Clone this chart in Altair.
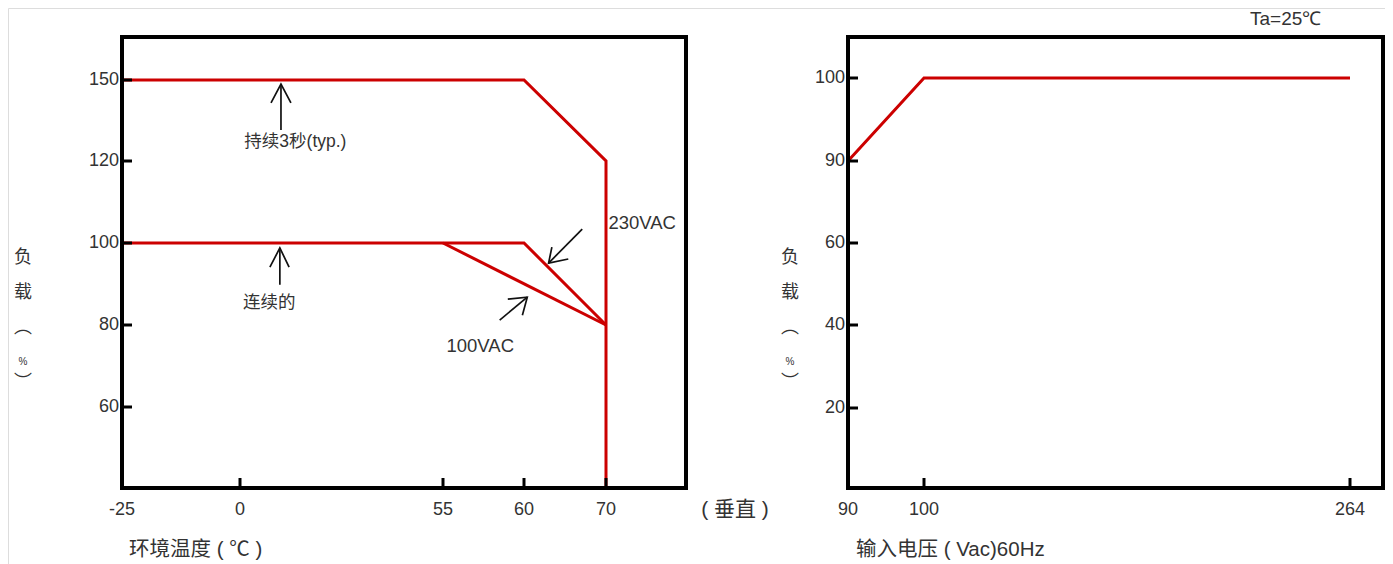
import altair as alt
import pandas as pd

# ---------------- data ----------------
# Left panel: load (%) vs ambient temperature (°C)
temp_ticks = [-25, 0, 55, 60, 70]
load_ticks_left = [60, 80, 100, 120, 150]
peak_temp = [-25, 60, 70, 70]
peak_load = [150, 150, 120, 40]
vac230_temp = [-25, 60, 70]
vac230_load = [100, 100, 80]
vac100_temp = [55, 70]
vac100_load = [100, 80]

# Right panel: load (%) vs input voltage (Vac)
vin_ticks = [90, 100, 264]
load_ticks_right = [20, 40, 60, 90, 100]
vin = [90, 100, 264]
vin_load = [90, 100, 100]

# annotation arrows (data units of left panel): shaft + head
arrow_peak_x = [[11.1, 11.1], [8.4, 11.1, 13.8]]
arrow_peak_y = [[131.5, 148.5], [141.5, 148.5, 141.5]]
arrow_cont_x = [[10.8, 10.8], [8.1, 10.8, 13.3]]
arrow_cont_y = [[89.8, 98.8], [94.1, 98.8, 94.1]]
arrow_230_x = [[67.1, 63.0], [63.4, 63.0, 65.4]]
arrow_230_y = [[103.4, 95.1], [99.0, 95.1, 96.1]]
arrow_100_x = [[58.5, 60.4], [59.0, 60.4, 59.9]]
arrow_100_y = [[81.2, 86.8], [86.3, 86.8, 82.4]]

notes_text = ["持续3秒(typ.)", "连续的", "230VAC", "100VAC"]
notes_x = [15.0, 7.9, 70.3, 57.3]
notes_y = [127.0, 85.4, 104.9, 74.9]
notes_align = ["center", "center", "left", "center"]
notes_size = [17.5, 17.5, 18.5, 18.5]

# ---------------- styling ----------------
RED = "#CC0000"
TXT = "#333333"
NUMFONT = "Liberation Sans"
CJK = "Liberation Sans, Noto Sans CJK SC"

# piecewise scales (chart pixel coordinates)
lx = alt.Scale(domain=[-25, 0, 55, 60, 70, 80], range=[114, 232, 435, 516, 598, 678], nice=False, zero=False)
ly = alt.Scale(domain=[40, 60, 80, 100, 120, 150, 166], range=[480, 399, 317, 235, 153, 72, 29], nice=False, zero=False)
rx = alt.Scale(domain=[90, 100, 264, 276.5], range=[840, 916, 1342, 1375], nice=False, zero=False)
ry = alt.Scale(domain=[0, 20, 40, 60, 90, 100, 105], range=[480, 400, 317, 235, 153, 70, 29], nice=False, zero=False)


def poly_df(groups):
    rows = []
    for gi, (xs, ys) in enumerate(groups):
        for i, (a, b) in enumerate(zip(xs, ys)):
            rows.append({"g": gi, "i": i, "x": a, "y": b})
    return pd.DataFrame(rows)


def lines(df, xs, ys, color, width):
    return alt.Chart(df).mark_line(color=color, strokeWidth=width, strokeJoin="miter", strokeCap="butt").encode(
        x=alt.X("x:Q", scale=xs, axis=None),
        y=alt.Y("y:Q", scale=ys, axis=None),
        detail="g:N",
        order="i:Q",
    )


def frame(xs, ys, x0, x1, y0, y1):
    df = pd.DataFrame({"x": [x0], "x2": [x1], "y": [y0], "y2": [y1]})
    return alt.Chart(df).mark_rect(fillOpacity=0, stroke="black", strokeWidth=4).encode(
        x=alt.X("x:Q", scale=xs, axis=None), x2="x2:Q",
        y=alt.Y("y:Q", scale=ys, axis=None), y2="y2:Q",
    )


def yticks(vals, ys, px):
    df = pd.DataFrame({"v": vals, "s": [str(v) for v in vals]})
    t = alt.Chart(df).mark_rule(color="black", strokeWidth=3).encode(
        y=alt.Y("v:Q", scale=ys, axis=None), x=alt.value(px), x2=alt.value(px + 10))
    lab = alt.Chart(df).mark_text(align="right", baseline="middle", font=NUMFONT, fontSize=18, color=TXT).encode(
        y=alt.Y("v:Q", scale=ys, axis=None), x=alt.value(px - 3), text="s:N")
    return t + lab


def xticks(vals, xs, py):
    df = pd.DataFrame({"v": vals, "s": [str(v) for v in vals]})
    t = alt.Chart(df).mark_rule(color="black", strokeWidth=3).encode(
        x=alt.X("v:Q", scale=xs, axis=None), y=alt.value(py), y2=alt.value(py - 10))
    lab = alt.Chart(df).mark_text(align="center", baseline="middle", font=NUMFONT, fontSize=18, color=TXT).encode(
        x=alt.X("v:Q", scale=xs, axis=None), y=alt.value(py + 22), text="s:N")
    return t + lab


def label(text, x, y, size=17, align="left", font=CJK, baseline="middle"):
    return alt.Chart(pd.DataFrame({"t": [text]})).mark_text(
        align=align, baseline=baseline, font=font, fontSize=size, color=TXT).encode(
        x=alt.value(x), y=alt.value(y), text="t:N")


def vtitle(x):
    return alt.layer(
        label("负", x, 250, 18, "center"),
        label("载", x, 285, 18, "center"),
        label("︵", x, 320, 18, "center"),
        label("%", x, 354, 10, "center"),
        label("︶", x, 375, 18, "center"),
    )


# ---------------- left panel ----------------
left_series = poly_df([(peak_temp, peak_load), (vac230_temp, vac230_load), (vac100_temp, vac100_load)])
arrows = poly_df([
    (arrow_peak_x[0], arrow_peak_y[0]), (arrow_peak_x[1], arrow_peak_y[1]),
    (arrow_cont_x[0], arrow_cont_y[0]), (arrow_cont_x[1], arrow_cont_y[1]),
    (arrow_230_x[0], arrow_230_y[0]), (arrow_230_x[1], arrow_230_y[1]),
    (arrow_100_x[0], arrow_100_y[0]), (arrow_100_x[1], arrow_100_y[1]),
])
notes = pd.DataFrame({"t": notes_text, "x": notes_x, "y": notes_y, "a": notes_align, "fs": notes_size})

note_layers = []
for al in ["center", "left"]:
    note_layers.append(
        alt.Chart(notes).transform_filter(alt.datum.a == al).mark_text(
            align=al, baseline="middle", font=CJK, color=TXT).encode(
            x=alt.X("x:Q", scale=lx, axis=None), y=alt.Y("y:Q", scale=ly, axis=None), text="t:N",
            size=alt.Size("fs:Q", scale=None, legend=None))
    )

left = alt.layer(
    lines(left_series, lx, ly, RED, 3),
    lines(arrows, lx, ly, "#111111", 1.7),
    *note_layers,
    xticks(temp_ticks, lx, 480),
    yticks(load_ticks_left, ly, 114),
    frame(lx, ly, -25, 80, 40, 166),
)

# ---------------- right panel ----------------
right_series = poly_df([(vin, vin_load)])
right = alt.layer(
    lines(right_series, rx, ry, RED, 3),
    xticks(vin_ticks, rx, 480),
    yticks(load_ticks_right, ry, 840),
    frame(rx, ry, 90, 276.5, 0, 105),
)

texts = alt.layer(
    vtitle(15),
    vtitle(782),
    label("环境温度 ( ℃ )", 121, 542, 20.5),
    label("( 垂直 )", 727, 502, 21, "center"),
    label("输入电压 ( Vac)60Hz", 848, 542, 20.5),
    label("Ta=25℃", 1242, 11, 19, font=NUMFONT),
)

chart = alt.layer(left, right, texts).resolve_scale(x="independent", y="independent").properties(
    width=1377, height=556, padding=0,
    autosize=alt.AutoSizeParams(type="none"),
).configure_view(stroke="transparent").configure(background="white")

chart.save("out.html", embed_options={"renderer": "svg", "actions": False})
